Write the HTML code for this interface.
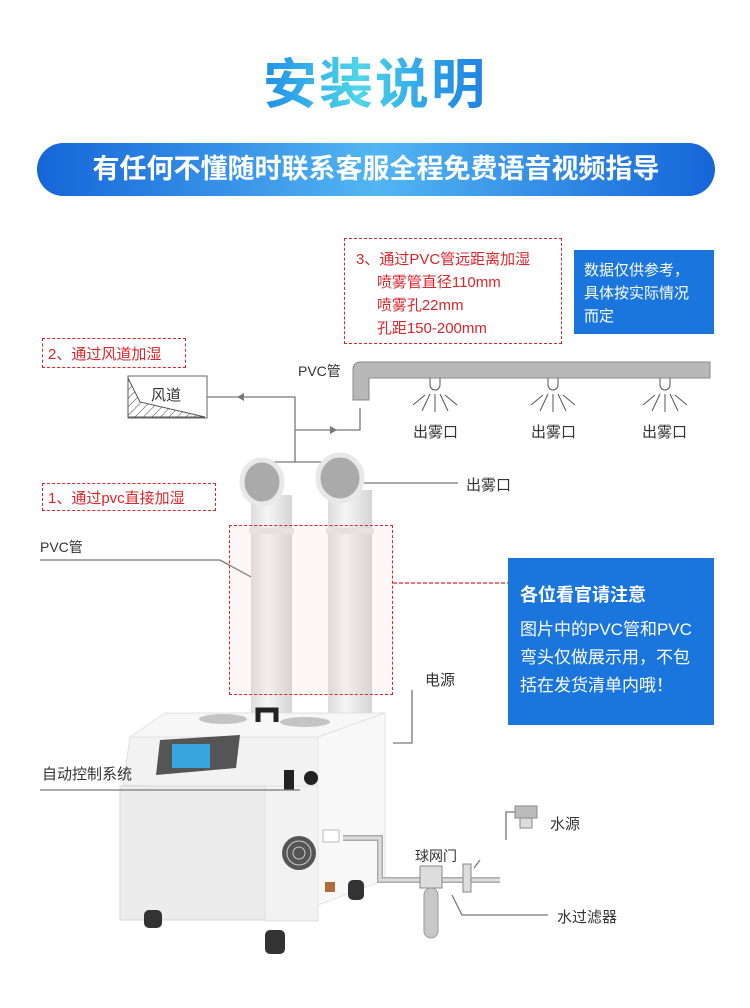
<!DOCTYPE html>
<html><head><meta charset="utf-8"><style>
body{margin:0;width:750px;height:1008px;background:#fff;position:relative;overflow:hidden;font-family:"Liberation Sans","Noto Sans CJK SC",sans-serif;}
.a{position:absolute;white-space:nowrap;}
.red{color:#d9262b;}
.dash{position:absolute;border:1.3px dashed #d9262b;box-sizing:border-box;}
</style></head><body>
<div class="a" style="left:0;width:750px;top:52px;text-align:center;font-size:54px;font-weight:bold;line-height:66px;letter-spacing:2px;background:linear-gradient(90deg,#1e8fe8 35%,#4fd6e8 48%,#2a9de8 58%,#1565d8 72%);-webkit-background-clip:text;background-clip:text;color:transparent;">安装说明</div>
<div class="a" style="left:37px;top:143px;width:678px;height:53px;border-radius:27px;background:linear-gradient(90deg,#1565d8,#52b6f2 50%,#1565d8);color:#fff;font-size:27px;font-weight:bold;text-align:center;line-height:53px;">有任何不懂随时联系客服全程免费语音视频指导</div>

<div class="dash" style="left:344px;top:238px;width:218px;height:106px;"></div>
<div class="a red" style="left:356px;top:248px;font-size:15px;line-height:23px;">3、通过PVC管远距离加湿<br>&nbsp;&nbsp;&nbsp;&nbsp;&nbsp;喷雾管直径110mm<br>&nbsp;&nbsp;&nbsp;&nbsp;&nbsp;喷雾孔22mm<br>&nbsp;&nbsp;&nbsp;&nbsp;&nbsp;孔距150-200mm</div>
<div class="a" style="left:574px;top:250px;width:140px;height:84px;background:#1a76dd;color:#fff;font-size:15px;line-height:23px;padding:9px 0 0 10px;box-sizing:border-box;">数据仅供参考，<br>具体按实际情况<br>而定</div>

<div class="dash" style="left:42px;top:338px;width:144px;height:30px;"></div>
<div class="a red" style="left:48px;top:343px;font-size:15px;">2、通过风道加湿</div>
<div class="dash" style="left:42px;top:483px;width:174px;height:28px;"></div>
<div class="a red" style="left:48px;top:487px;font-size:15px;">1、通过pvc直接加湿</div>

<svg class="a" style="left:0;top:0" width="750" height="1008">
<defs><pattern id="h" width="6" height="6" patternUnits="userSpaceOnUse" patternTransform="rotate(45)"><line x1="0" y1="0" x2="0" y2="6" stroke="#444" stroke-width="1"/></pattern>
<linearGradient id="pg" x1="0" x2="1"><stop offset="0" stop-color="#dcdcdc"/><stop offset=".4" stop-color="#f5f5f5"/><stop offset="1" stop-color="#d4d4d4"/></linearGradient></defs>
<rect x="128" y="376" width="79" height="42" fill="#fff" stroke="#666"/>
<path d="M128,378 L140,402 L205,417 L128,417Z" fill="url(#h)" stroke="#555"/>
<path d="M353,370 Q353,362 361,362 L710,362 L710,378 L369,378 L369,400 L353,400Z" fill="#b8b8b8" stroke="#888"/>
<g fill="none" stroke="#555" stroke-width="1">
<path d="M430,378v7a5,5 0 0 0 10,0v-7M548,378v7a5,5 0 0 0 10,0v-7M660,378v7a5,5 0 0 0 10,0v-7"/>
<path d="M425,395l-12,10M430,394l-8,17M435,394l0,18M440,394l8,17M445,395l12,10M543,395l-12,10M548,394l-8,17M553,394l0,18M558,394l8,17M563,395l12,10M655,395l-12,10M660,394l-8,17M665,394l0,18M670,394l8,17M675,395l12,10"/>
</g>
<g fill="none" stroke="#777" stroke-width="1.3">
<path d="M207,397H295V462M295,430H360V408M258,475V462H335V475M350,483H458M40,560H220L262,583M412,690V743H393M338,858V880H398"/>
<path d="M506,840V812H520M474,868L480,860M452,895L462,915H548"/>
</g>
<path d="M244,393l-7,4 7,4z M330,426l7,4-7,4z" fill="#777"/>
<path d="M393,583H508" stroke="#d9262b" stroke-dasharray="4,2" stroke-width="1.3"/>
<rect x="251" y="495" width="41" height="225" fill="url(#pg)"/>
<rect x="328" y="490" width="44" height="230" fill="url(#pg)"/>
<rect x="249" y="528" width="45" height="6" fill="#e4e4e4"/>
<rect x="326" y="528" width="48" height="6" fill="#e4e4e4"/>
<ellipse cx="262" cy="482" rx="20" ry="22" fill="#aaa" stroke="#e8e8e8" stroke-width="5"/>
<ellipse cx="340" cy="478" rx="22" ry="23" fill="#aaa" stroke="#e8e8e8" stroke-width="5"/>
<!-- machine -->
<path d="M130,737 L165,713 L385,713 L318,737Z" fill="#f7f7f7" stroke="#e2e2e2"/>
<ellipse cx="223" cy="719" rx="24" ry="5" fill="#c4c4c4"/><ellipse cx="305" cy="722" rx="25" ry="5" fill="#c4c4c4"/>
<path d="M258,722v-12h18v12" fill="none" stroke="#222" stroke-width="5"/>
<path d="M123,785 L130,737 L318,737 L318,790 L265,790 Z" fill="#f2f2f2" stroke="#e0e0e0"/>
<rect x="120" y="786" width="145" height="134" fill="#ececec" stroke="#d8d8d8"/>
<rect x="265" y="786" width="53" height="135" fill="#f2f2f2" stroke="#e0e0e0"/>
<path d="M318,737 L385,713 L385,880 L318,905Z" fill="#f8f8f8" stroke="#e2e2e2"/>
<path d="M160,740 L240,735 L236,768 L156,775Z" fill="#555"/>
<rect x="172" y="744" width="38" height="24" fill="#3aa6e0"/>
<rect x="284" y="770" width="10" height="20" fill="#222"/><circle cx="311" cy="778" r="7" fill="#222"/>
<circle cx="299" cy="853" r="17" fill="#555"/><circle cx="299" cy="853" r="12" fill="none" stroke="#ccc"/><circle cx="299" cy="853" r="6" fill="none" stroke="#ccc"/>
<rect x="323" y="830" width="16" height="12" fill="#fff" stroke="#bbb"/>
<rect x="325" y="882" width="10" height="10" fill="#b36a3a"/>
<g fill="#333"><rect x="144" y="910" width="18" height="18" rx="5"/><rect x="265" y="930" width="20" height="24" rx="5"/><rect x="348" y="880" width="16" height="20" rx="5"/></g>
<path d="M343,838H380V880H500" fill="none" stroke="#aaa" stroke-width="6"/>
<path d="M343,838H380V880H500" fill="none" stroke="#ddd" stroke-width="3"/>
<rect x="420" y="866" width="22" height="22" fill="#ddd" stroke="#888"/>
<rect x="424" y="888" width="14" height="50" rx="7" fill="#c8c8c8" stroke="#999"/>
<rect x="463" y="864" width="8" height="28" fill="#ddd" stroke="#888"/>
<rect x="515" y="806" width="22" height="12" fill="#bbb" stroke="#888"/>
<rect x="520" y="818" width="12" height="10" fill="#ddd" stroke="#888"/>
<path d="M40,790H300" fill="none" stroke="#777" stroke-width="1.3"/>
</svg>
<div class="dash" style="left:229px;top:525px;width:164px;height:170px;background:rgba(240,200,200,0.15);"></div>

<div class="a" style="left:298px;top:361px;font-size:14px;color:#333;">PVC管</div>
<div class="a" style="left:151px;top:384px;font-size:15px;color:#333;">风道</div>
<div class="a" style="left:413px;top:421px;font-size:15px;color:#333;">出雾口</div>
<div class="a" style="left:531px;top:421px;font-size:15px;color:#333;">出雾口</div>
<div class="a" style="left:642px;top:421px;font-size:15px;color:#333;">出雾口</div>
<div class="a" style="left:466px;top:474px;font-size:15px;color:#333;">出雾口</div>
<div class="a" style="left:40px;top:537px;font-size:14px;color:#333;">PVC管</div>
<div class="a" style="left:425px;top:669px;font-size:15px;color:#333;">电源</div>
<div class="a" style="left:42px;top:763px;font-size:15px;color:#333;">自动控制系统</div>
<div class="a" style="left:550px;top:813px;font-size:15px;color:#333;">水源</div>
<div class="a" style="left:415px;top:846px;font-size:14px;color:#333;">球网门</div>
<div class="a" style="left:557px;top:906px;font-size:15px;color:#333;">水过滤器</div>

<div class="a" style="left:508px;top:558px;width:206px;height:167px;background:#1a76dd;color:#fff;padding:24px 0 0 12px;box-sizing:border-box;">
<div style="font-size:18px;font-weight:bold;line-height:26px;">各位看官请注意</div>
<div style="font-size:17px;line-height:28px;margin-top:8px;">图片中的PVC管和PVC<br>弯头仅做展示用，不包<br>括在发货清单内哦！</div></div>
</body></html>
